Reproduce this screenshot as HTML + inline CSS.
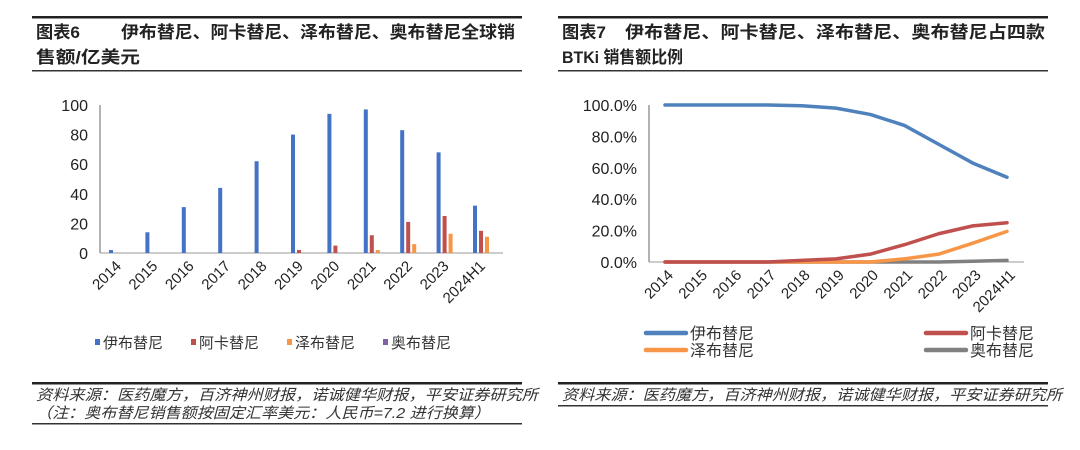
<!DOCTYPE html>
<html><head><meta charset="utf-8"><style>
body{margin:0;background:#fff;width:1080px;height:445px;overflow:hidden}
svg text{font-family:"Liberation Sans","Noto Sans CJK SC",sans-serif}
</style></head><body>
<svg id="s" width="1080" height="445">
<g>
<rect x="32" y="16" width="490" height="2.5" fill="#222"/>
<rect x="558" y="16" width="490" height="2.5" fill="#222"/>
<rect x="32" y="70" width="490" height="1.5" fill="#333"/>
<rect x="558" y="70" width="490" height="1.5" fill="#333"/>
<rect x="32" y="382" width="490" height="2.5" fill="#222"/>
<rect x="558" y="382" width="490" height="2.5" fill="#222"/>
<rect x="32" y="423" width="490" height="1.5" fill="#333"/>
<rect x="558" y="405" width="490" height="1.5" fill="#333"/>
</g>
<g font-size="17" font-weight="bold" fill="#222">
<text x="36" y="38"><tspan textLength="44" lengthAdjust="spacingAndGlyphs">图表6</tspan><tspan x="121" textLength="394" lengthAdjust="spacingAndGlyphs">伊布替尼、阿卡替尼、泽布替尼、奥布替尼全球销</tspan></text>
<text x="36" y="63" textLength="104" lengthAdjust="spacingAndGlyphs">售额/亿美元</text>
<text x="562" y="38"><tspan textLength="44" lengthAdjust="spacingAndGlyphs">图表7</tspan><tspan x="625" textLength="420" lengthAdjust="spacingAndGlyphs">伊布替尼、阿卡替尼、泽布替尼、奥布替尼占四款</tspan></text>
<text x="562" y="63" textLength="121" lengthAdjust="spacingAndGlyphs">BTKi 销售额比例</text>
</g>
<g font-size="15" font-style="italic" fill="#333">
<text x="36" y="400" textLength="502" lengthAdjust="spacingAndGlyphs">资料来源：医药魔方，百济神州财报，诺诚健华财报，平安证券研究所</text>
<text x="36" y="418" textLength="454" lengthAdjust="spacingAndGlyphs">（注：奥布替尼销售额按固定汇率美元：人民币=7.2 进行换算）</text>
<text x="562" y="400" textLength="500" lengthAdjust="spacingAndGlyphs">资料来源：医药魔方，百济神州财报，诺诚健华财报，平安证券研究所</text>
</g>
<g id="c1"></g>
<g id="c2"></g>
</svg>
<script>
const cats=["2014","2015","2016","2017","2018","2019","2020","2021","2022","2023","2024H1"];
const names=["伊布替尼","阿卡替尼","泽布替尼","奥布替尼"];
const barIbr=[2,14,31,44,62,80,94,97,83,68,32];
const barAca=[0,0,0,0,0,2,5,12,21,25,15];
const barZan=[0,0,0,0,0,0,0,2,6,13,11];
const barOrel=[0,0,0,0,0,0,0,0,0,0,0];
const barTicks=[0,20,40,60,80,100];
const shrIbr=[100,100,100,100,99.5,98,94,87,75,63,54];
const shrAca=[0,0,0,0,1,2,5,11,18,23,25];
const shrZan=[0,0,0,0,0,0,0,2,5,12,19.5];
const shrOrel=[0,0,0,0,0,0,0,0,0,0.5,1];
const shrTicks=[0,20,40,60,80,100];
const NS="http://www.w3.org/2000/svg";
function mk(p,t,a,txt){const e=document.createElementNS(NS,t);for(const k in a)e.setAttribute(k,a[k]);if(txt!=null)e.textContent=txt;p.appendChild(e);return e;}
// bar chart
const c1=document.getElementById('c1');
const y1=v=>253-v*1.48, x1=i=>111+i*36.4;
const bcol=["#4472c4","#c0504d","#f79646","#8064a2"];
const bser=[barIbr,barAca,barZan,barOrel];
mk(c1,'line',{x1:100,y1:105,x2:100,y2:253,stroke:'#666'});
mk(c1,'line',{x1:100,y1:253,x2:503,y2:253,stroke:'#999'});
barTicks.forEach(t=>{const e=mk(c1,'text',{x:88,y:y1(t)+6,'font-size':16,'text-anchor':'end',fill:'#222'},t);

});
cats.forEach((c,i)=>{const e=mk(c1,'text',{transform:`translate(${x1(i)+11},${267}) rotate(-45)`,'font-size':15,'text-anchor':'end',fill:'#222'},c);

});
bser.forEach((s,k)=>s.forEach((v,i)=>{if(v<=0)return;const r=mk(c1,'rect',{x:x1(i)-2+k*6,y:y1(v),width:4,height:253-y1(v),fill:bcol[k]});

}));
names.forEach((n,k)=>{const lx=95+k*96;mk(c1,'rect',{x:lx,y:339,width:5,height:6,fill:bcol[k]});
const e=mk(c1,'text',{x:lx+8,y:348,'font-size':15,fill:'#333'},n);

});
// line chart
const c2=document.getElementById('c2');
const y2=v=>262-v*1.57, x2=i=>665+i*34.2;
const lcol=["#4f81bd","#c0504d","#f79646","#808080"];
const lser=[shrIbr,shrAca,shrZan,shrOrel];
mk(c2,'line',{x1:649,y1:105,x2:649,y2:262,stroke:'#666'});
mk(c2,'line',{x1:649,y1:262,x2:1024,y2:262,stroke:'#999'});
shrTicks.forEach(t=>{const e=mk(c2,'text',{x:637,y:y2(t)+6,'font-size':16,'text-anchor':'end',fill:'#222'},t.toFixed(1)+'%');

});
cats.forEach((c,i)=>{const e=mk(c2,'text',{transform:`translate(${x2(i)+9},${276}) rotate(-45)`,'font-size':15,'text-anchor':'end',fill:'#222'},c);

});
[3,2,1,0].forEach(k=>{const s=lser[k];const p=mk(c2,'polyline',{points:s.map((v,i)=>x2(i)+','+y2(v)).join(' '),fill:'none',stroke:lcol[k],'stroke-width':3.5,'stroke-linejoin':'round','stroke-linecap':'round'});

});
const lpos=[[646,333],[926,333],[646,350],[926,350]];
names.forEach((n,k)=>{const [lx,ly]=lpos[k];mk(c2,'line',{x1:lx,y1:ly,x2:lx+40,y2:ly,stroke:lcol[k],'stroke-width':4.5,'stroke-linecap':'round'});
const e=mk(c2,'text',{x:lx+44,y:ly+6,'font-size':16,fill:'#333'},n);

});
</script>
</body></html>
